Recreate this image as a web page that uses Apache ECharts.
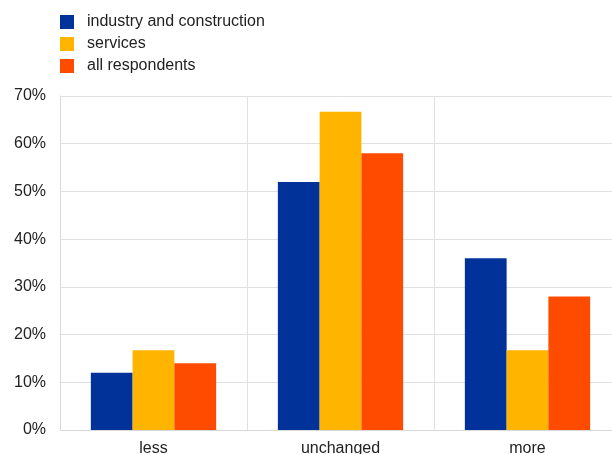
<!DOCTYPE html>
<html>
<head>
<meta charset="utf-8">
<script src="https://cdn.jsdelivr.net/npm/echarts@6/dist/echarts.min.js"></script>
<style>
  html, body { margin: 0; padding: 0; background: #fff; }
  #chart { width: 612px; height: 454px; }
</style>
</head>
<body>
<div id="chart"></div>
<script>
const categories = ["less", "unchanged", "more"];
const seriesNames = ["industry and construction", "services", "all respondents"];
const industry = [12, 52, 36];
const services = [16.7, 66.7, 16.7];
const allRespondents = [14, 58, 28];
const colors = ["#003299", "#FFB400", "#FF4B00"];

const chart = echarts.init(document.getElementById("chart"));
const font = "Liberation Sans, Arial, sans-serif";

const options = {
  animation: false,
  backgroundColor: "#ffffff",
  textStyle: { fontFamily: font },
  legend: {
    orient: "vertical",
    left: 55,
    top: 9,
    itemWidth: 14,
    itemHeight: 14,
    itemGap: 6,
    icon: "rect",
    textStyle: { fontSize: 16, color: "#222", fontFamily: font, padding: [0, 0, 0, 8] },
    data: seriesNames
  },
  // the plot runs a little past the right edge of the picture
  grid: { left: 60, top: 96, width: 561, bottom: 24, containLabel: false, outerBoundsMode: "none" },
  xAxis: {
    type: "category",
    data: categories,
    axisLine: { show: true, lineStyle: { color: "#d9d9d9", width: 1 } },
    axisTick: { show: false },
    splitLine: { show: true, lineStyle: { color: "#e0e0e0", width: 1 } },
    axisLabel: { fontSize: 16, color: "#222", margin: 11, fontFamily: font }
  },
  yAxis: {
    type: "value",
    min: 0,
    max: 70,
    interval: 10,
    axisLine: { show: true, lineStyle: { color: "#d9d9d9", width: 1 } },
    axisTick: { show: false },
    splitLine: { show: true, lineStyle: { color: "#e0e0e0", width: 1 } },
    axisLabel: { fontSize: 16, color: "#222", margin: 14, formatter: "{value}%", fontFamily: font }
  },
  series: [
    { name: seriesNames[0], data: industry },
    { name: seriesNames[1], data: services },
    { name: seriesNames[2], data: allRespondents }
  ].map((s, i) => ({
    name: s.name,
    type: "bar",
    data: s.data,
    barGap: "0%",
    barCategoryGap: "33%",
    itemStyle: { color: colors[i] }
  }))
};

chart.setOption(options);
</script>
</body>
</html>
